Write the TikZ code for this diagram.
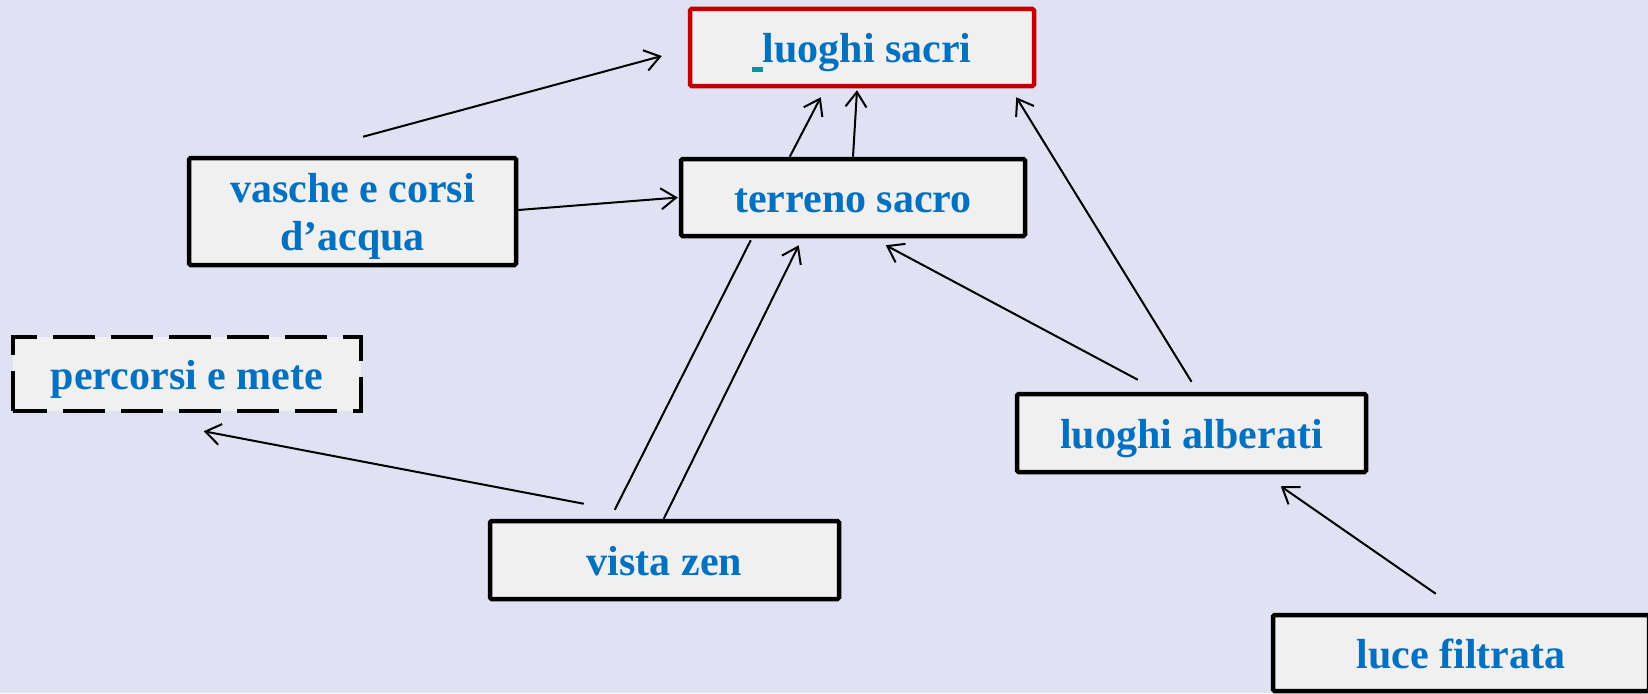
\documentclass[tikz,border=0pt]{standalone}
\usepackage{fontspec}
\setmainfont{Liberation Serif}
\usetikzlibrary{arrows.meta,calc}
\definecolor{bg}{RGB}{224,226,244}
\definecolor{boxfill}{RGB}{240,240,240}
\definecolor{txt}{RGB}{0,112,192}
\definecolor{redline}{RGB}{192,0,0}
\definecolor{ulcol}{RGB}{0,153,153}

\begin{document}
\begin{tikzpicture}[x=1pt,y=-1pt,
  concept/.style={draw=black, line width=4.5pt, fill=boxfill, text=txt,
    font=\bfseries\fontsize{42}{48}\selectfont, align=center,
    inner sep=0pt, rounded corners=1.5pt},
  oneline/.style={text height=32pt, text depth=2pt},
  link/.style={line width=2pt, -{Straight Barb[length=15pt,width=21pt]}},
  bare/.style={line width=2pt}]

% canvas
\fill[bg] (0,0) rectangle (1648,693);
\useasboundingbox (0,0) rectangle (1648,693);
\clip (0,0) rectangle (1648,693);

% concepts
\node[concept, oneline, draw=redline, minimum width=344pt, minimum height=77pt] (ls) at (862,47.5)
  {\textcolor{ulcol}{\rule[-10pt]{10.5pt}{5pt}}luoghi sacri};
\node[concept, oneline, minimum width=344pt, minimum height=77pt] (ts) at (853,197.5) {terreno sacro};
\node[concept, minimum width=327pt, minimum height=107pt] (va) at (352.5,211.5)
  {\rule{0pt}{38pt}vasche e corsi\\d’acqua};
\node[concept, oneline, dash pattern=on 42pt off 16pt, dash phase=8pt, rounded corners=0pt,
  minimum width=348pt, minimum height=74pt] (pm) at (187,374) {percorsi e mete};
\node[concept, oneline, minimum width=349pt, minimum height=78pt] (vz) at (664.5,560) {vista zen};
\node[concept, oneline, minimum width=349pt, minimum height=78pt] (la) at (1191.5,433) {luoghi alberati};
\node[concept, oneline, minimum width=376pt, minimum height=76pt] (lf) at (1461,653) {luce filtrata};

% loose start above the water box
\coordinate (vaTop) at ($(va.north)+(10.5,-19)$);

% connectors
\draw[link] (vaTop) -- ($(ls.west)+(-26,8.5)$);
\draw[link] ($(ts.north west)+(111,0)$) -- ($(ls.south west)+(133,9)$);
\draw[link] (ts.north) -- ($(ls.south)+(-5,2)$);
\draw[link] ($(va.east)+(0,-1.5)$) -- ($(ts.west)+(-1,0)$);
\draw[bare] ($(vz.north west)+(127,-9)$) -- ($(ts.south west)+(72,2)$);
\draw[link] ($(vz.north west)+(176,0)$) -- ($(ts.south west)+(120,7)$);
\draw[link] ($(vz.north west)+(96,-15)$) -- ($(pm.south west)+(193,18)$);
\draw[link] ($(la.north west)+(123,-12)$) -- ($(ts.south west)+(207,7)$);
\draw[link] ($(la.north)+(0,-10)$) -- ($(ls.south east)+(-20,9)$);
\draw[link] ($(lf.north west)+(165,-19)$) -- ($(la.south west)+(266,12)$);
\end{tikzpicture}
\end{document}
